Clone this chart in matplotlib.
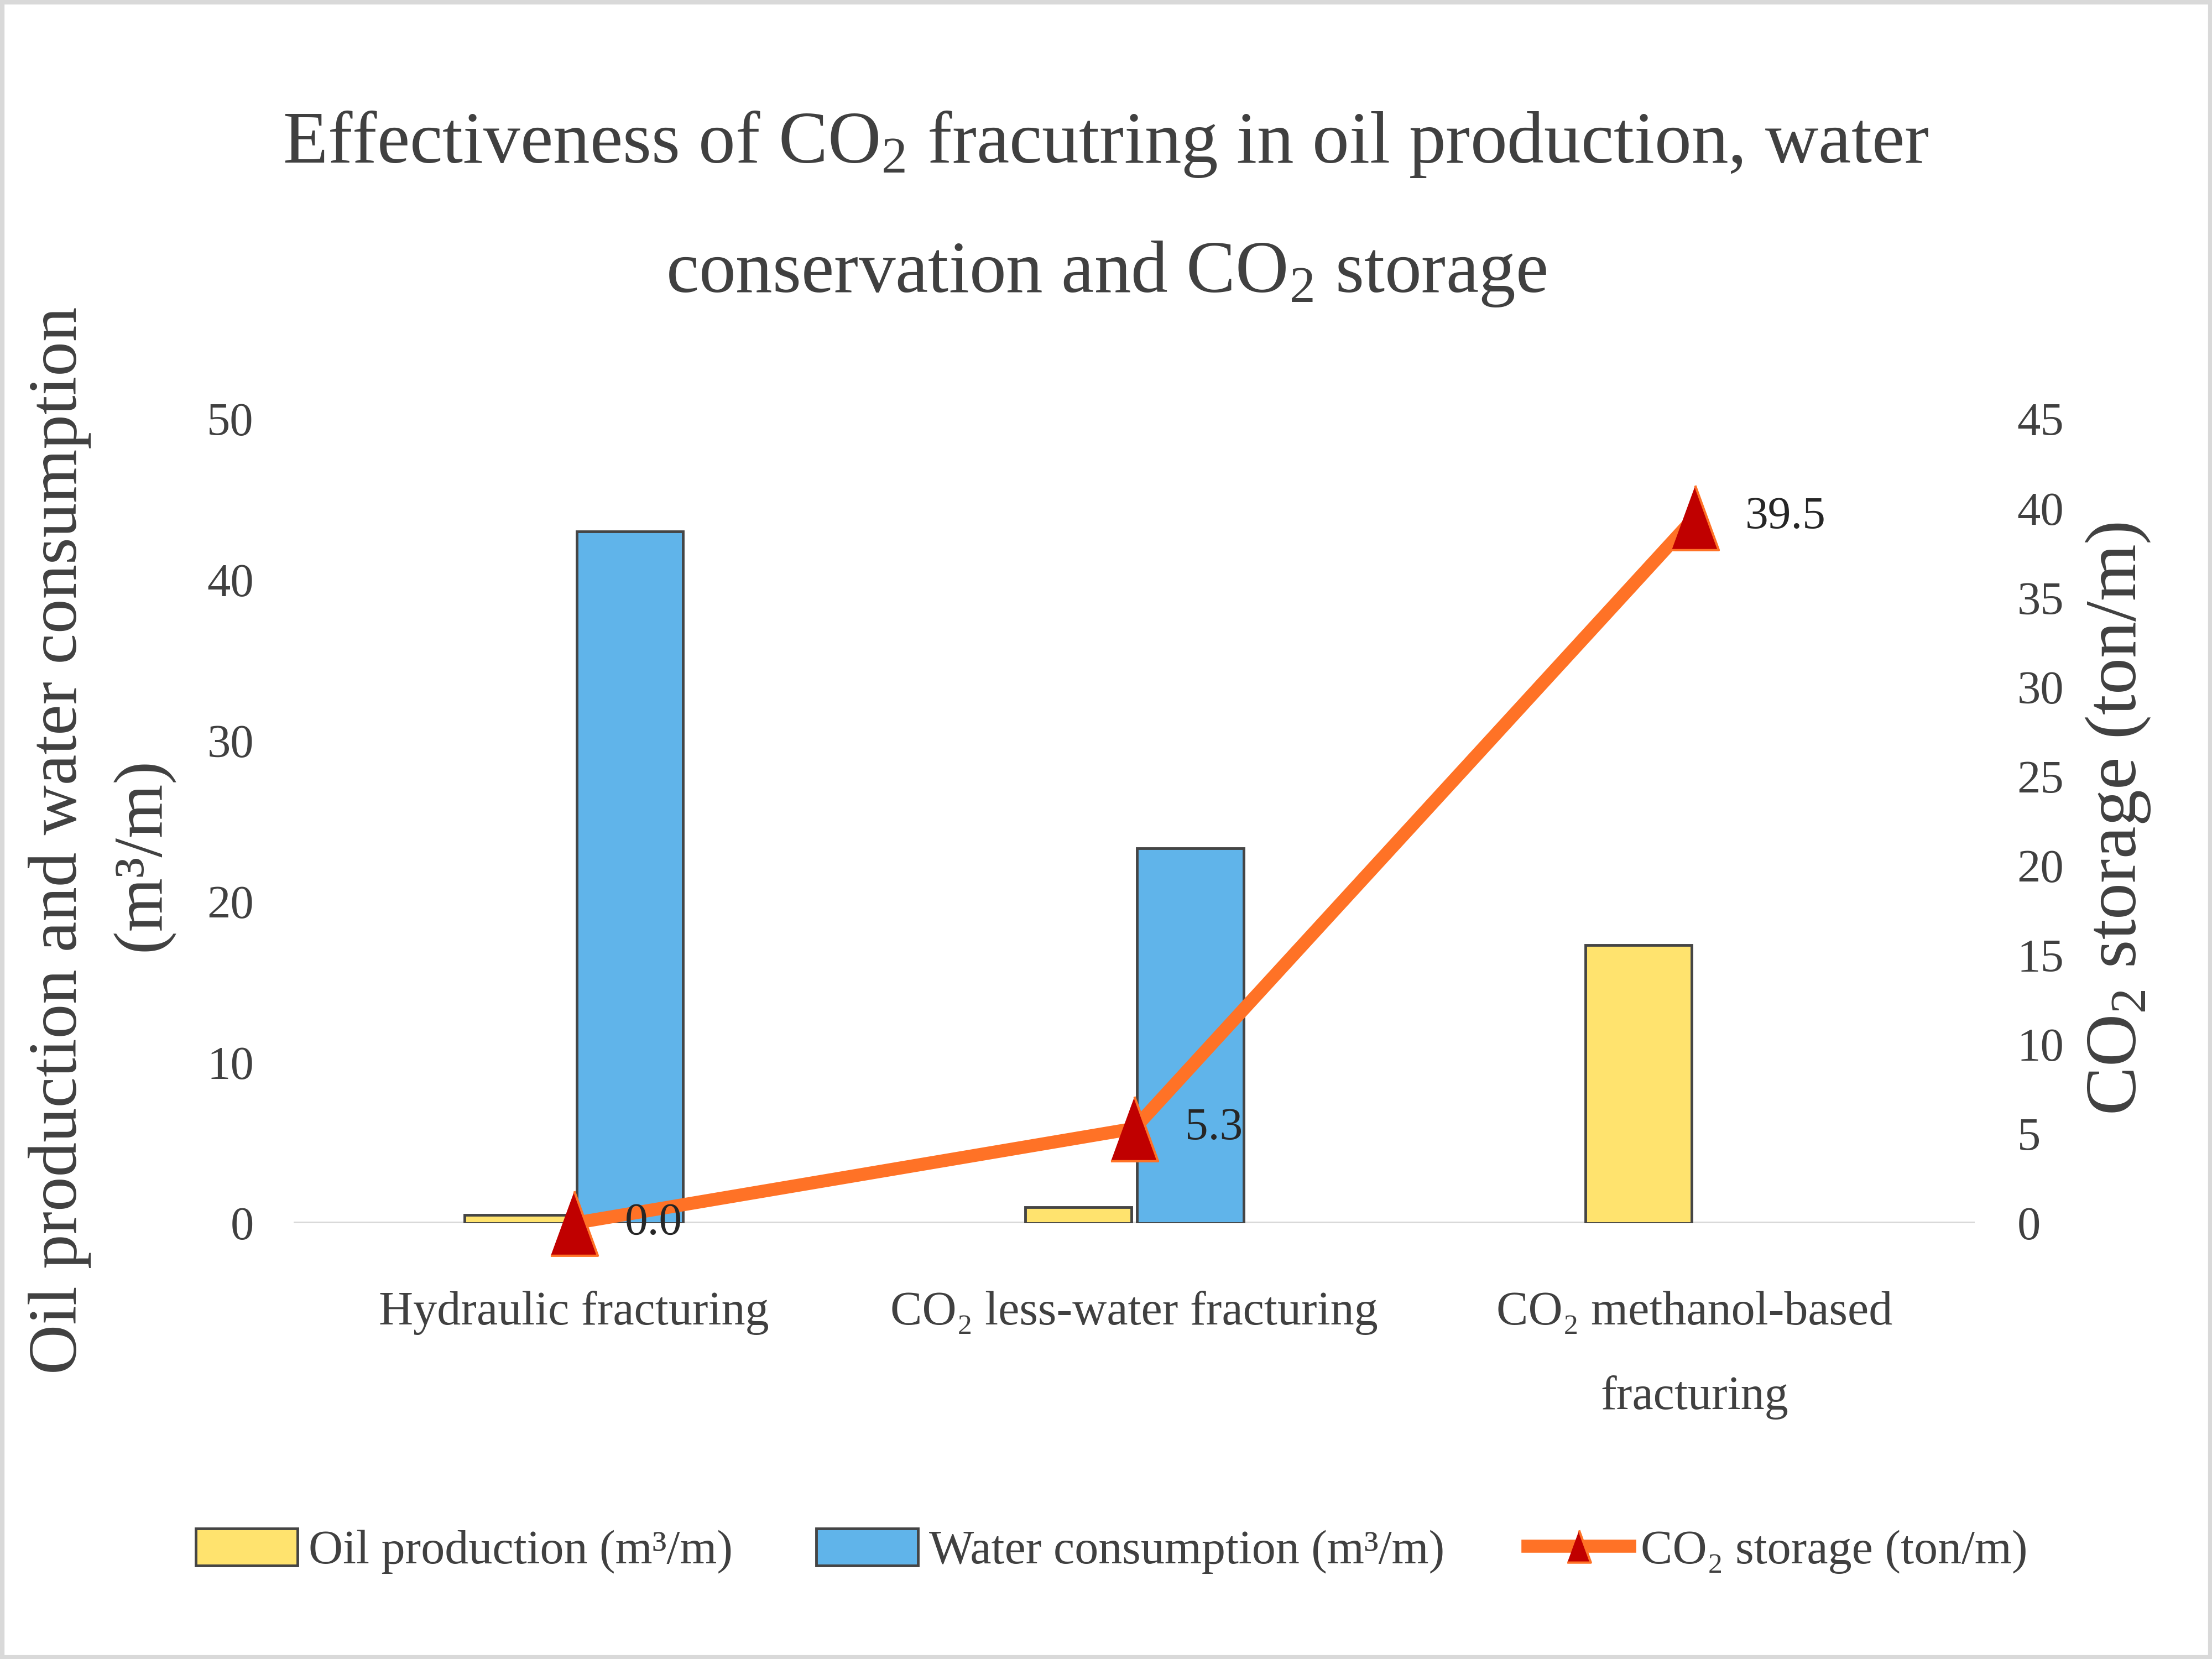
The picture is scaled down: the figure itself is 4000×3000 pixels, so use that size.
import matplotlib
matplotlib.use('Agg')
import matplotlib.pyplot as plt
import numpy as np
from matplotlib.patches import Rectangle

# ---- data ----
categories = ['Hydraulic fracturing', 'CO₂ less-water fracturing', 'CO₂ methanol-based\nfracturing']
oil_production = [0.5, 1.0, 17.3]
water_consumption = [43.0, 23.3, 0.0]
co2_storage = [0.0, 5.3, 39.5]
left_ticks = [0, 10, 20, 30, 40, 50]
right_ticks = [0, 5, 10, 15, 20, 25, 30, 35, 40, 45]
legend_labels = ['Oil production (m³/m)', 'Water consumption (m³/m)', 'CO₂ storage (ton/m)']

plt.rcParams['font.family'] = ['Liberation Serif', 'DejaVu Serif']
plt.rcParams['mathtext.default'] = 'regular'

TXT = '#404040'
fig = plt.figure(figsize=(40, 30), dpi=100)
fig.patch.set_facecolor('white')
ax = fig.add_axes([0.1328, 0.2627, 0.76, 0.4847])
x = np.arange(len(categories))

bars_oil = ax.bar(x - 0.1, oil_production, 0.19, color='#FFE36E', edgecolor='#454545', lw=3.5, zorder=3)
bars_water = ax.bar(x + 0.1, water_consumption, 0.19, color='#60B4EA', edgecolor='#454545', lw=3.5, zorder=3)
for b in list(bars_oil) + list(bars_water):
    if b.get_height() == 0:
        b.set_visible(False)
ax.axhline(0, color='#D9D9D9', lw=5, zorder=1)
ax.set_xlim(-0.5, 2.5)
ax.set_ylim(0, 50)
ax.set_yticks(left_ticks)
ax.tick_params(axis='y', length=0, pad=52, labelsize=61, labelcolor=TXT)
ax.set_xticks(x)
ax.set_xticklabels(categories, linespacing=2.2)
ax.tick_params(axis='x', length=0, pad=88, labelsize=62, labelcolor=TXT)
for s in ax.spines.values():
    s.set_visible(False)

ax2 = ax.twinx()
ax2.set_ylim(0, 45)
ax2.set_yticks(right_ticks)
ax2.tick_params(axis='y', length=0, pad=55, labelsize=61, labelcolor=TXT)
for s in ax2.spines.values():
    s.set_visible(False)
ax2.patch.set_visible(False)

tri = [(-0.365, -0.5), (0.365, -0.5), (0, 0.5)]
line, = ax2.plot(x, co2_storage, color='#FF7226', lw=17, marker=tri, markersize=84,
                 mfc='#C00000', mec='#FF7226', mew=3, clip_on=False, zorder=5)
for xi, v in zip(x, co2_storage):
    ax2.annotate(f'{v:.1f}', (xi, v), xytext=(66, 0), textcoords='offset points',
                 ha='left', va='center', fontsize=60, color='#262626', zorder=6)

# title
fig.text(0.5, 0.902, 'Effectiveness of CO$_2$ fracutring in oil production, water',
         ha='center', va='baseline', fontsize=96, color=TXT)
fig.text(0.5, 0.824, 'conservation and CO$_2$ storage',
         ha='center', va='baseline', fontsize=96, color=TXT)

# axis labels
fig.text(108 / 4000, 1 - 1520 / 3000, 'Oil production and water consumption', rotation=90,
         ha='center', va='center', fontsize=90, color=TXT)
fig.text(258 / 4000, 1 - 1545 / 3000, '(m³/m)', rotation=90,
         ha='center', va='center', fontsize=90, color=TXT)
fig.text(3830 / 4000, 1 - 1480 / 3000, 'CO$_2$ storage (ton/m)', rotation=90,
         ha='center', va='center', fontsize=95, color=TXT)

leg = fig.legend([bars_oil, bars_water, line], legend_labels, loc='center',
                 bbox_to_anchor=(0.5025, 1 - 2805 / 3000), ncol=3, frameon=False,
                 fontsize=62, handlelength=2.14, handleheight=0.83, handletextpad=0.23,
                 columnspacing=1.75, markerscale=0.5, labelcolor=TXT)

fig.add_artist(Rectangle((0, 0), 1, 1, transform=fig.transFigure, fill=False,
                         ec='#D9D9D9', lw=11, zorder=0))

fig.savefig('out.png', dpi=100, facecolor='white')
